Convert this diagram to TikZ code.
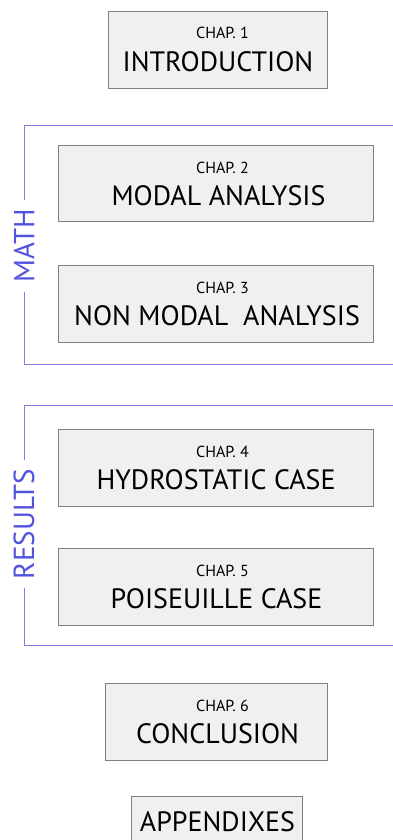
\documentclass[tikz,border=0pt]{standalone}
\usepackage{fontspec}
\setmainfont{PT Sans}
\definecolor{boxfill}{HTML}{F0F0F0}
\definecolor{boxline}{HTML}{808080}
\definecolor{brline}{HTML}{7F7FE6}
\definecolor{brtext}{HTML}{5252E0}
\begin{document}
\begin{tikzpicture}[x=1pt,y=-1pt,
  chapbox/.style={draw=boxline, fill=boxfill, line width=0.9pt, inner sep=0pt},
  small/.style={font=\fontsize{16}{18}\selectfont},
  big/.style={font=\fontsize{28}{30}\selectfont},
  brk/.style={draw=brline, line width=0.9pt},
  brlabel/.style={text=brtext, rotate=90, fill=white, inner xsep=9pt, inner ysep=2pt, font=\fontsize{29}{30}\selectfont}
]
\useasboundingbox (0,0) rectangle (393,840);
% boxes
\node[chapbox, minimum width=219pt, minimum height=77pt] (c1) at (217.5,49.5) {};
\node[chapbox, minimum width=315pt, minimum height=76pt] (c2) at (216,183) {};
\node[chapbox, minimum width=315pt, minimum height=77pt] (c3) at (216,303.5) {};
\node[chapbox, minimum width=315pt, minimum height=77pt] (c4) at (216,467.5) {};
\node[chapbox, minimum width=315pt, minimum height=77pt] (c5) at (216,586.5) {};
\node[chapbox, minimum width=222pt, minimum height=77pt] (c6) at (216,721.5) {};
\node[chapbox, minimum width=171pt, minimum height=60pt] (c7) at (216.5,826) {};
% texts
\node[small, anchor=base] (t1a) at (222.5,39) {CHAP. 1};
\node[big, anchor=base] (t1b) at (218,72) {INTRODUCTION};
\node[small, anchor=base] (t2a) at (222.5,173) {CHAP. 2};
\node[big, anchor=base] (t2b) at (218.5,205) {MODAL ANALYSIS};
\node[small, anchor=base] (t3a) at (222.5,293) {CHAP. 3};
\node[big, anchor=base] (t3b) at (217,325) {NON MODAL\ \ ANALYSIS};
\node[small, anchor=base] (t4a) at (222.5,457) {CHAP. 4};
\node[big, anchor=base] (t4b) at (216,489) {HYDROSTATIC CASE};
\node[small, anchor=base] (t5a) at (222.5,576) {CHAP. 5};
\node[big, anchor=base] (t5b) at (216.5,608) {POISEUILLE CASE};
\node[small, anchor=base] (t6a) at (222.5,711) {CHAP. 6};
\node[big, anchor=base] (t6b) at (217.5,743) {CONCLUSION};
\node[big, anchor=base] (t7) at (217.5,831) {APPENDIXES};
% brackets
\coordinate (m1) at (393,125);
\coordinate (m2) at (24,125);
\coordinate (m3) at (24,364);
\coordinate (m4) at (393,364);
\draw[brk] (m1) -- (m2) -- (m3) -- (m4);
\node[brlabel] (math) at (24,246) {MATH};
\coordinate (r1) at (393,405);
\coordinate (r2) at (24,405);
\coordinate (r3) at (24,645);
\coordinate (r4) at (393,645);
\draw[brk] (r1) -- (r2) -- (r3) -- (r4);
\node[brlabel] (res) at (24,524) {RESULTS};
\end{tikzpicture}
\end{document}
